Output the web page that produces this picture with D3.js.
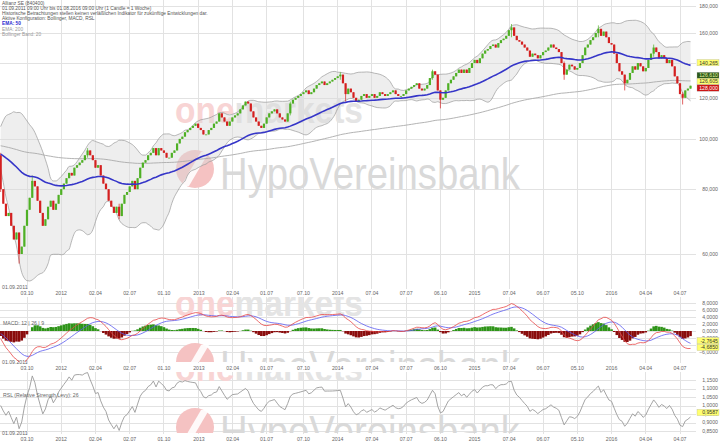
<!DOCTYPE html>
<html><head><meta charset="utf-8">
<script src="https://cdn.jsdelivr.net/npm/d3@7"></script>
<style>body{margin:0;background:#fff}svg{display:block;font-family:"Liberation Sans",Arial,sans-serif}</style>
</head><body><svg id="c" width="720" height="446"></svg>
<script>
// ---------- data ----------
const startDate = "2011-07-25";           // first weekly candle
const firstOpen = 93;
const closes = [
 80,75,71,72,68,64,66,60,62,68,
 73,77,83,81,76,72,68,70,74,76,
 73,75,78,80,82,84,86,85,88,89,
 90,91,93,95,93,91,88,89,85,82,
 80,76,74,72,74,71,75,78,79,81,
 83,80,84,88,90,91,93,94,96,93,
 96,95,94,92,92,94,95,98,100,101,
 103,104,105,106,107,105,104,102,102,104,
 105,107,108,112,110,108,106,108,110,111,
 112,114,116,118,117,113,110,108,106,105,
 107,110,112,113,114,112,110,109,108,112,
 117,119,120,121,122,123,124,122,123,125,
 127,128,129,127,128,129,130,131,132,133,
 128,122,125,123,120,118,119,121,122,120,
 121,122,120,121,123,122,121,122,123,124,
 122,121,121,122,124,125,126,127,128,125,
 124,125,127,131,135,133,124,119,120,124,
 128,130,132,134,136,134,136,134,137,140,
 142,140,143,146,148,149,151,152,150,153,
 155,156,158,162,164,158,155,154,152,150,
 148,144,146,145,143,145,147,148,150,152,
 150,149,147,140,133,136,139,138,136,137,
 140,145,150,152,155,157,160,163,158,161,
 157,153,152,146,140,135,133,128,130,134,
 138,136,140,138,135,137,142,146,150,147,
 143,145,143,140,142,138,132,128,122,120,
 124,125,126.61];
const warmupCloses = [97,99,101,102,100,101,99,98,99,97,96,95,97,98,96,95,94,93,93];
const wickIdx  = [0,   7,   12, 33, 45, 110, 129,   131, 164, 167,   194,   214, 227,   237, 248, 259];
const wickHigh = [94,  62,  85, 96, 75, 118, 134.5, 128, 136, 121,   166.5, 141, 165.5, 131, 152, 123];
const wickLow  = [79,  57.5,79, 92, 70, 111, 130,   118, 130, 114.5, 157,   130, 157,   124, 144, 116.5];
const ema50Start = 93.5, ema200Start = 97;
const priceTicks = [60,80,100,120,140,160,180];
const macdTicks = [8,6,4,2,0,-2,-4,-6];
const rslTicks = [1.15,1.10,1.05,1.00,0.95,0.90,0.85];
const dateTicks = ["2011-10-03","2012-01-02","2012-04-02","2012-07-02","2012-10-01","2013-01-02","2013-04-02","2013-07-01","2013-10-07","2014-01-06","2014-04-07","2014-07-07","2014-10-06","2015-01-05","2015-04-07","2015-07-06","2015-10-05","2016-01-04","2016-04-04","2016-07-04"];
const dateLabels = ["03.10","2012","02.04","02.07","01.10","2013","02.04","01.07","07.10","2014","07.04","07.07","06.10","2015","07.04","06.07","05.10","2016","04.04","04.07"];
const titleLines = ["Allianz SE (840400)",
 "01.09.2011 09:00 Uhr bis 01.08.2016 09:00 Uhr (1 Candle = 1 Woche)",
 "Historische Betrachtungen stellen keinen verläßlichen Indikator für zukünftige Entwicklungen dar.",
 "Aktive Konfiguration: Bollinger, MACD, RSL"];
const priceBoxes = [{t:"140,265",v:140.265,f:"#ffff70",c:"#333"},{t:"126,610",v:126.61,f:"#2d5a1c",c:"#e8f5a0"},{t:"126,605",v:126.605,f:"#ffff70",c:"#333"},{t:"128,000",v:128,f:"#cc1515",c:"#fff"}];
const macdBoxes = [{t:"-2,7645",v:-2.7645},{t:"-4,6850",v:-4.685}];
const rslBoxes = [{t:"0,9587",v:0.9587}];

// ---------- scales ----------
const parse = d3.utcParse("%Y-%m-%d");
const x = d3.scaleUtc().domain([parse("2011-10-03"), parse("2016-07-04")]).range([27, 680]);
const y = d3.scaleLog().domain([60,160]).range([254,33]);
const yM = d3.scaleLinear().domain([8,-6]).range([303,352]);
const yR = d3.scaleLinear().domain([1.15,0.85]).range([380,431]);
const t0 = parse(startDate);
const data = closes.map((c,i)=>{
  const o = i===0 ? firstOpen : closes[i-1];
  const k = wickIdx.indexOf(i);
  return {date:d3.utcDay.offset(t0, 7*i), o, c,
    h: k>=0 ? Math.max(wickHigh[k],o,c) : Math.max(o,c),
    l: k>=0 ? Math.min(wickLow[k],o,c) : Math.min(o,c)};
});

// ---------- indicators ----------
const all = warmupCloses.concat(closes), W = warmupCloses.length;
function ema(arr, n){ const a=2/(n+1); let e=arr[0]; return arr.map((v,i)=>{ if(i>0) e = e + a*(v-e); return e; }); }
const e12 = ema(all,12), e26 = ema(all,26);
const macdAll = e12.map((v,i)=>v-e26[i]);
const sigAll = ema(macdAll,9);
data.forEach((d,i)=>{
  const k=i+W;
  d.macd = macdAll[k]; d.sig = sigAll[k]; d.hist = macdAll[k]-sigAll[k];
  const win = all.slice(k-19,k+1), m = d3.mean(win), sd = Math.sqrt(d3.mean(win,v=>(v-m)*(v-m)));
  d.bu = m+2*sd; d.bl = m-2*sd;
  d.rsl = d.c / d3.mean(closes.slice(Math.max(0,i-25), i+1));
});
{ let a=2/51, e=ema50Start, b=2/201, f=ema200Start;
  data.forEach((d,i)=>{ if(i>0){e+=a*(d.c-e); f+=b*(d.c-f);} d.e50=e; d.e200=f; }); }

// ---------- drawing ----------
const svg = d3.select("#c");
const defs = svg.append("defs");
const panels = [{id:"pm",y0:0,y1:289},{id:"pd",y0:297,y1:362},{id:"pr",y0:372,y1:433}];
panels.forEach(p=>defs.append("clipPath").attr("id",p.id).append("rect").attr("x",0).attr("y",p.y0).attr("width",696).attr("height",p.y1-p.y0));
const gridCol="#e2e2e2", txtCol="#666";

function watermark(dy, clip){
  const g = svg.append("g").attr("clip-path",`url(#${clip})`);
  const t = g.append("text").attr("x",175).attr("y",123+dy).attr("font-size",36).attr("font-weight","bold")
    .attr("textLength",188).attr("lengthAdjust","spacingAndGlyphs");
  t.append("tspan").attr("fill","#f8d4d4").text("one");
  t.append("tspan").attr("fill","#e4e4e4").text("markets");
  g.append("circle").attr("cx",195).attr("cy",169+dy).attr("r",19).attr("fill","#f5c2c2");
  g.append("path").attr("d",`M181,${186+dy} L201,${152+dy} L209,${152+dy} L189,${186+dy}Z`).attr("fill","#fff").attr("opacity",0.9);
  g.append("text").attr("x",220).attr("y",189+dy).attr("font-size",45).attr("fill","#d9d9d9")
    .attr("textLength",300).attr("lengthAdjust","spacingAndGlyphs").text("HypoVereinsbank");
}
function vgrid(y0,y1){
  svg.append("g").selectAll("line").data(dateTicks).join("line")
    .attr("x1",d=>x(parse(d))).attr("x2",d=>x(parse(d))).attr("y1",y0).attr("y2",y1)
    .attr("stroke",gridCol).attr("stroke-width",1).attr("shape-rendering","crispEdges");
}
function dateAxis(yStart, yDates){
  svg.append("text").attr("x",2).attr("y",yStart).attr("font-size",5.2).attr("fill",txtCol).text("01.09.2011");
  svg.append("g").selectAll("text").data(dateTicks).join("text")
    .attr("x",d=>x(parse(d))).attr("y",yDates).attr("text-anchor","middle").attr("font-size",5.2).attr("fill",txtCol)
    .text((d,i)=>dateLabels[i]);
}
function hgrid(ticks, sc, fmt){
  svg.append("g").selectAll("line").data(ticks).join("line")
    .attr("x1",0).attr("x2",696).attr("y1",d=>Math.round(sc(d))+0.5).attr("y2",d=>Math.round(sc(d))+0.5)
    .attr("stroke",gridCol).attr("stroke-width",1);
  svg.append("g").selectAll("text").data(ticks).join("text")
    .attr("x",718).attr("y",d=>sc(d)+1.8).attr("text-anchor","end").attr("font-size",5.2).attr("fill",txtCol).text(fmt);
}
function boxes(list, sc, yOff){
  const g = svg.append("g");
  list.forEach((b,i)=>{
    const yy = yOff ? yOff[i] : sc(b.v);
    g.append("rect").attr("x",697).attr("y",yy-3.2).attr("width",22).attr("height",6.4).attr("fill",b.f||"#ffff70").attr("stroke","#aaa").attr("stroke-width",0.3);
    g.append("text").attr("x",718).attr("y",yy+1.9).attr("text-anchor","end").attr("font-size",5.2).attr("fill",b.c||"#333").text(b.t);
  });
}
const fmtComma = n => d => d3.format(`.${n}f`)(d).replace(".",",");

// --- main panel ---
vgrid(0,289);
hgrid(priceTicks, y, fmtComma(3));
watermark(0,"pm");
dateAxis(289, 295);
const gm = svg.append("g").attr("clip-path","url(#pm)");
const band = d3.area().x(d=>x(d.date)).y0(d=>y(d.bl)).y1(d=>y(d.bu)).curve(d3.curveMonotoneX);
gm.append("path").datum(data).attr("d",band).attr("fill","#d9d9d9").attr("fill-opacity",0.45);
gm.append("path").datum(data).attr("d",d3.line().x(d=>x(d.date)).y(d=>y(d.bu)).curve(d3.curveMonotoneX)).attr("fill","none").attr("stroke","#9a9a9a").attr("stroke-width",0.7);
gm.append("path").datum(data).attr("d",d3.line().x(d=>x(d.date)).y(d=>y(d.bl)).curve(d3.curveMonotoneX)).attr("fill","none").attr("stroke","#9a9a9a").attr("stroke-width",0.7);
gm.append("path").datum(data).attr("d",d3.line().x(d=>x(d.date)).y(d=>y(d.e200))).attr("fill","none").attr("stroke","#aaaaaa").attr("stroke-width",0.9);
const green="#4fb025", red="#d42020";
gm.append("g").selectAll("line").data(data).join("line")
  .attr("x1",d=>x(d.date)).attr("x2",d=>x(d.date)).attr("y1",d=>y(d.h)).attr("y2",d=>y(d.l))
  .attr("stroke",d=>d.c>=d.o?green:red).attr("stroke-width",0.7);
gm.append("g").selectAll("rect").data(data).join("rect")
  .attr("x",d=>x(d.date)-1.1).attr("width",2.2)
  .attr("y",d=>y(Math.max(d.o,d.c))).attr("height",d=>Math.max(0.8,y(Math.min(d.o,d.c))-y(Math.max(d.o,d.c))))
  .attr("fill",d=>d.c>=d.o?green:red);
gm.append("path").datum(data).attr("d",d3.line().x(d=>x(d.date)).y(d=>y(d.e50))).attr("fill","none").attr("stroke","#3535c8").attr("stroke-width",1.6);
boxes(priceBoxes, y, [y(priceBoxes[0].v),75.5,81.5,88]);

// title
const tg = svg.append("g").attr("font-size",4.8);
titleLines.forEach((t,i)=>tg.append("text").attr("x",2).attr("y",4.5+i*5).attr("fill","#555").text(t));
tg.append("text").attr("x",2).attr("y",25).attr("fill","#2a2ad0").attr("font-weight","bold").text("EMA: 50");
tg.append("text").attr("x",2).attr("y",30.5).attr("fill","#999").text("EMA: 200");
tg.append("text").attr("x",2).attr("y",36).attr("fill","#999").text("Bollinger Band: 20");

// --- MACD panel ---
vgrid(297,363);
hgrid(macdTicks, yM, fmtComma(4));
watermark(193,"pd");
dateAxis(364, 369.5);
const gd = svg.append("g").attr("clip-path","url(#pd)");
gd.append("g").selectAll("rect").data(data).join("rect")
  .attr("x",d=>x(d.date)-1.3).attr("width",2.6)
  .attr("y",d=>Math.min(yM(0),yM(d.hist))).attr("height",d=>Math.abs(yM(d.hist)-yM(0)))
  .attr("fill",d=>d.hist>=0?"#2e9418":"#8a0c0c");
gd.append("path").datum(data).attr("d",d3.line().x(d=>x(d.date)).y(d=>yM(d.sig))).attr("fill","none").attr("stroke","#5a5af0").attr("stroke-width",0.8);
gd.append("path").datum(data).attr("d",d3.line().x(d=>x(d.date)).y(d=>yM(d.macd))).attr("fill","none").attr("stroke","#e84848").attr("stroke-width",0.8);
svg.append("text").attr("x",3).attr("y",325).attr("font-size",5.2).attr("fill",txtCol).text("MACD: 12 | 26 | 9");
boxes(macdBoxes, yM);

// --- RSL panel ---
vgrid(372,434);
hgrid(rslTicks, yR, fmtComma(4));
watermark(258,"pr");
dateAxis(435, 441);
const gr = svg.append("g").attr("clip-path","url(#pr)");
gr.append("path").datum(data).attr("d",d3.line().x(d=>x(d.date)).y(d=>yR(d.rsl))).attr("fill","none").attr("stroke","#9a9a9a").attr("stroke-width",0.9);
svg.append("text").attr("x",3).attr("y",397).attr("font-size",5.2).attr("fill",txtCol).text("RSL (Relative Strength Levy): 26");
boxes(rslBoxes, yR);
</script></body></html>
